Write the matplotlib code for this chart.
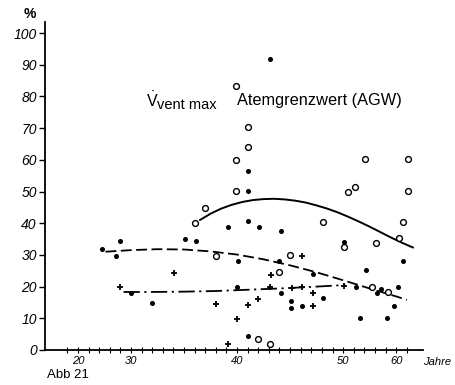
"""Abb 21: V'vent max / Atemgrenzwert (AGW) vs. age, scatter + three trend curves."""
import numpy as np
import matplotlib
matplotlib.use("Agg")
import matplotlib.pyplot as plt

plt.rcParams["font.family"] = ["Liberation Sans", "DejaVu Sans"]
plt.rcParams["mathtext.fontset"] = "custom"
plt.rcParams["mathtext.rm"] = "Liberation Sans"

# --- data (age in years, value in %) ---
dot_age = [27.3, 28.6, 29.0, 30.0, 32.0, 35.1, 36.1, 39.1, 40.1, 40.0, 41.0, 41.0,
           41.0, 41.0, 42.1, 43.1, 44.1, 44.0, 44.1, 45.1, 45.1, 46.1, 47.2, 48.1,
           50.1, 51.2, 51.6, 52.2, 53.2, 53.6, 54.1, 54.8, 55.2, 55.6]
dot_val = [31.9, 29.7, 34.4, 18.0, 14.8, 35.0, 34.4, 38.8, 28.1, 19.9, 40.7, 50.2,
           4.4, 56.5, 38.8, 91.8, 37.5, 28.1, 18.0, 15.5, 13.2, 13.9, 24.0, 16.4,
           34.1, 19.9, 10.1, 25.2, 18.0, 19.2, 10.1, 13.9, 19.9, 28.1]

plus_age = [29.0, 34.1, 38.0, 39.1, 40.0, 41.0, 42.0, 43.2, 43.1, 45.2, 46.1, 46.1,
            47.2, 47.2, 50.1]
plus_val = [19.9, 24.3, 14.5, 1.9, 9.8, 14.2, 16.1, 23.7, 19.9, 19.6, 19.9, 29.7,
            18.0, 13.9, 20.2]

circ_age = [36.0, 37.0, 38.0, 39.9, 41.0, 41.0, 39.9, 39.9, 42.0, 43.1, 44.0, 45.0,
            48.1, 50.1, 50.5, 51.1, 52.1, 52.7, 53.1, 54.2, 55.3, 55.6, 56.1, 56.1]
circ_val = [40.1, 44.8, 29.7, 83.3, 70.3, 64.0, 60.0, 50.2, 3.5, 1.9, 24.6, 30.0,
            40.4, 32.5, 49.8, 51.4, 60.2, 19.9, 33.8, 18.3, 35.3, 40.4, 60.2, 50.2]

# trend curves
agw_age = [36.5, 37.5, 38.5, 39.5, 40.5, 41.5, 42.5, 43.5, 44.5, 45.5, 46.5, 47.5,
           48.5, 49.5, 50.5, 51.5, 52.5, 53.5, 54.5, 55.5, 56.6]
agw_val = [41.0, 43.0, 44.6, 45.8, 46.7, 47.3, 47.6, 47.7, 47.5, 47.1, 46.5, 45.6,
           44.6, 43.4, 42.0, 40.5, 38.9, 37.2, 35.5, 33.9, 32.3]

dash_age = [27.6, 30.0, 32.5, 35.0, 37.5, 40.0, 42.5, 45.0, 47.5, 50.0, 52.5, 55.0, 56.0]
dash_val = [31.0, 31.5, 31.8, 31.7, 31.1, 30.1, 28.6, 26.7, 24.5, 22.0, 19.4, 16.9, 15.8]

dd_age = [29.3, 32.0, 35.0, 38.0, 41.0, 44.0, 47.0, 50.2]
dd_val = [18.3, 18.3, 18.4, 18.6, 19.0, 19.4, 19.9, 20.5]

xtick_pos = [25.0, 30, 40, 50, 55.0]
xtick_lab = ["20", "30", "40", "50", "60"]
ytick_pos = list(range(0, 101, 10))

fig = plt.figure(figsize=(4.55, 3.85), dpi=100)
ax = fig.add_axes([0.099, 0.091, 0.830, 0.852])

ax.plot(agw_age, agw_val, color="black", lw=1.4, solid_capstyle="round")
ax.plot(dash_age, dash_val, color="black", lw=1.3, dashes=(6, 2.5))
ax.plot(dd_age, dd_val, color="black", lw=1.3, dashes=(9, 2.5, 1.2, 2.5))

ax.plot(dot_age, dot_val, ls="none", marker="o", ms=2.6, color="black")
ax.plot(plus_age, plus_val, ls="none", marker="+", ms=4.5, mew=1.3, color="black")
ax.plot(circ_age, circ_val, ls="none", marker="o", ms=4.2, mfc="white",
        mec="black", mew=1.0)

ax.set_xlim(21.9, 57.5)
ax.set_ylim(0, 103.5)
for s in ("top", "right"):
    ax.spines[s].set_visible(False)
for s in ("left", "bottom"):
    ax.spines[s].set_linewidth(1.3)

ax.set_yticks(ytick_pos)
ax.set_yticklabels([str(v) for v in ytick_pos], fontsize=10, style="italic")
ax.set_xticks(xtick_pos)
ax.set_xticklabels(xtick_lab, fontsize=8, style="italic")
ax.set_xticks(np.arange(24, 57), minor=True)
ax.tick_params(axis="y", length=4, width=1.0, pad=2)
ax.tick_params(axis="x", which="both", length=4, width=0.8, pad=2, direction="inout")

fig.text(30 / 455, 1 - 14 / 385, "%", fontsize=10, fontweight="bold",
         ha="center", va="center")
ax.text(1.0, -0.02, "Jahre", transform=ax.transAxes, fontsize=8, style="italic",
        ha="left", va="top")
ax.text(31.4, 78.6, r"$\dot{\mathrm{V}}$", fontsize=11.5, ha="left", va="center")
ax.text(32.5, 77.3, "vent max", fontsize=10.5, ha="left", va="center")
ax.text(40.0, 78.6, "Atemgrenzwert (AGW)", fontsize=11.8, ha="left", va="center")
fig.text(47 / 455, 1 - 375 / 385, "Abb 21", fontsize=9.5, ha="left", va="center")

fig.savefig("out.png", dpi=100, facecolor="white")
